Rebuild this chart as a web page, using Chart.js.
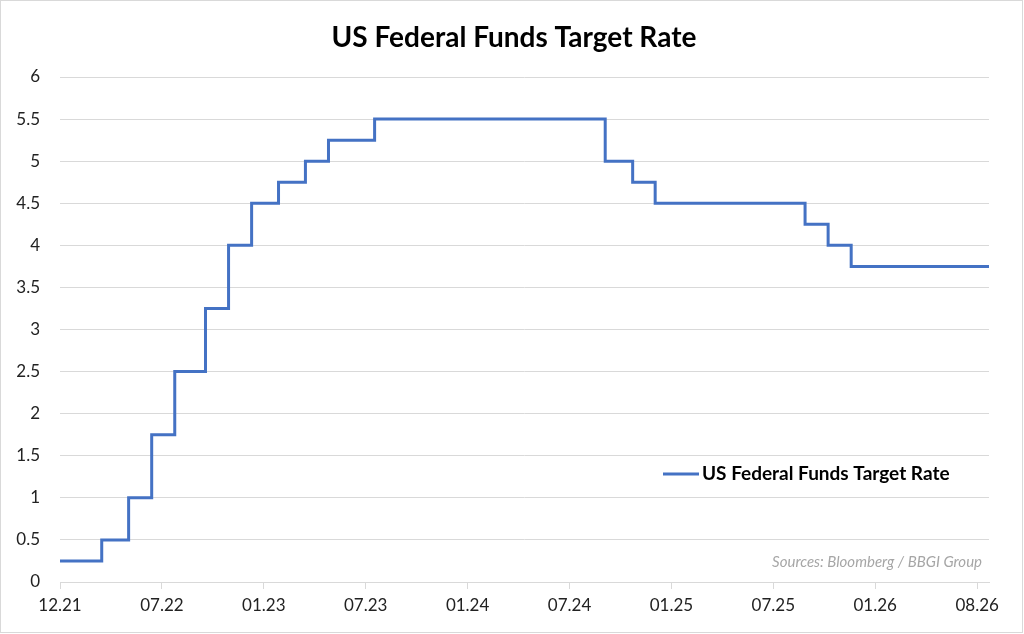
<!DOCTYPE html>
<html>
<head>
<meta charset="utf-8">
<title>US Federal Funds Target Rate</title>
<script src="https://cdn.jsdelivr.net/npm/chart.js@4/dist/chart.umd.min.js"></script>
<style>
  html, body { margin: 0; padding: 0; background: #fff; }
  #wrap { width: 1024px; height: 634px; }
</style>
</head>
<body>
<div id="wrap"><canvas id="chart-area" width="1024" height="634"></canvas></div>
<script>
// dates the target rate (upper bound) changed, and the new level
var changeDates = ['2021-12-31', '2022-03-17', '2022-05-05', '2022-06-16', '2022-07-28',
  '2022-09-22', '2022-11-03', '2022-12-15', '2023-02-02', '2023-03-23', '2023-05-04',
  '2023-07-27', '2024-09-19', '2024-11-08', '2024-12-19', '2025-09-18', '2025-10-30',
  '2025-12-11'];
var rates = [0.25, 0.5, 1.0, 1.75, 2.5, 3.25, 4.0, 4.5, 4.75, 5.0, 5.25, 5.5,
  5.0, 4.75, 4.5, 4.25, 4.0, 3.75];
var lastDate = '2026-08-19';

var tickLabels = ['12.21', '07.22', '01.23', '07.23', '01.24', '07.24', '01.25', '07.25', '01.26', '08.26'];
var tickEveryDays = 185.6;

var chartTitle = 'US Federal Funds Target Rate';
var seriesName = 'US Federal Funds Target Rate';
var sourceText = 'Sources: Bloomberg / BBGI Group';

var FONT = 'Lato, "Open Sans", sans-serif';
var BLUE = '#4472C4';
var GRID = '#d9d9d9';

var startMs = Date.parse(changeDates[0]);
function toDay(s) { return (Date.parse(s) - startMs) / 864e5; }

var points = changeDates.map(function (d, i) { return { x: toDay(d), y: rates[i] }; });
points.push({ x: toDay(lastDate), y: rates[rates.length - 1] });

// frame, title, legend and source note
var extras = {
  id: 'extras',
  beforeDraw: function (chart) {
    var c = chart.ctx;
    c.save();
    c.fillStyle = '#fff';
    c.fillRect(0, 0, chart.width, chart.height);
    c.strokeStyle = GRID;
    c.lineWidth = 1;
    c.strokeRect(0.5, 0.5, chart.width - 2, chart.height - 2);
    c.restore();
  },
  afterDraw: function (chart) {
    var c = chart.ctx;
    c.save();
    c.fillStyle = '#000';
    c.font = 'bold 28px ' + FONT;
    c.textBaseline = 'middle';
    c.textAlign = 'center';
    c.fillText(chartTitle, 514, 38);

    c.strokeStyle = BLUE;
    c.lineWidth = 3;
    c.beginPath();
    c.moveTo(663, 474);
    c.lineTo(699, 474);
    c.stroke();
    c.font = 'bold 19px ' + FONT;
    c.textAlign = 'left';
    c.fillText(seriesName, 702, 474);

    c.fillStyle = '#a6a6a6';
    c.font = 'italic 15px ' + FONT;
    c.textAlign = 'right';
    c.fillText(sourceText, 982, 562);
    c.restore();
  }
};

var config = {
  type: 'line',
  data: {
    datasets: [{
      label: seriesName,
      data: points,
      borderColor: BLUE,
      backgroundColor: BLUE,
      borderWidth: 3,
      stepped: 'before',
      pointRadius: 0,
      fill: false
    }]
  },
  options: {
    responsive: false,
    animation: false,
    layout: { padding: { left: 0, right: 35, top: 77, bottom: 0 } },
    plugins: {
      legend: { display: false },
      tooltip: { enabled: false },
      title: { display: false }
    },
    scales: {
      x: {
        type: 'linear',
        min: 0,
        max: toDay(lastDate),
        afterBuildTicks: function (scale) {
          scale.ticks = tickLabels.map(function (t, i) { return { value: i * tickEveryDays }; });
        },
        afterFit: function (scale) { scale.height = 52; },
        grid: { drawOnChartArea: false, drawTicks: true, tickLength: 7, color: GRID },
        border: { display: true, color: GRID, width: 1 },
        ticks: {
          autoSkip: false,
          maxRotation: 0,
          padding: 6,
          color: '#222',
          font: { family: FONT, size: 17 },
          callback: function (v, i) { return tickLabels[i]; }
        }
      },
      y: {
        min: 0,
        max: 6,
        afterFit: function (scale) { scale.width = 60; },
        grid: { color: GRID, drawTicks: false },
        border: { display: false },
        ticks: {
          stepSize: 0.5,
          padding: 20,
          color: '#222',
          font: { family: FONT, size: 17 },
          callback: function (v) { return String(+v.toFixed(2)); }
        }
      }
    }
  },
  plugins: [extras]
};

var ctx = document.getElementById('chart-area').getContext('2d');
window.myLine = new Chart(ctx, config);
</script>
</body>
</html>
